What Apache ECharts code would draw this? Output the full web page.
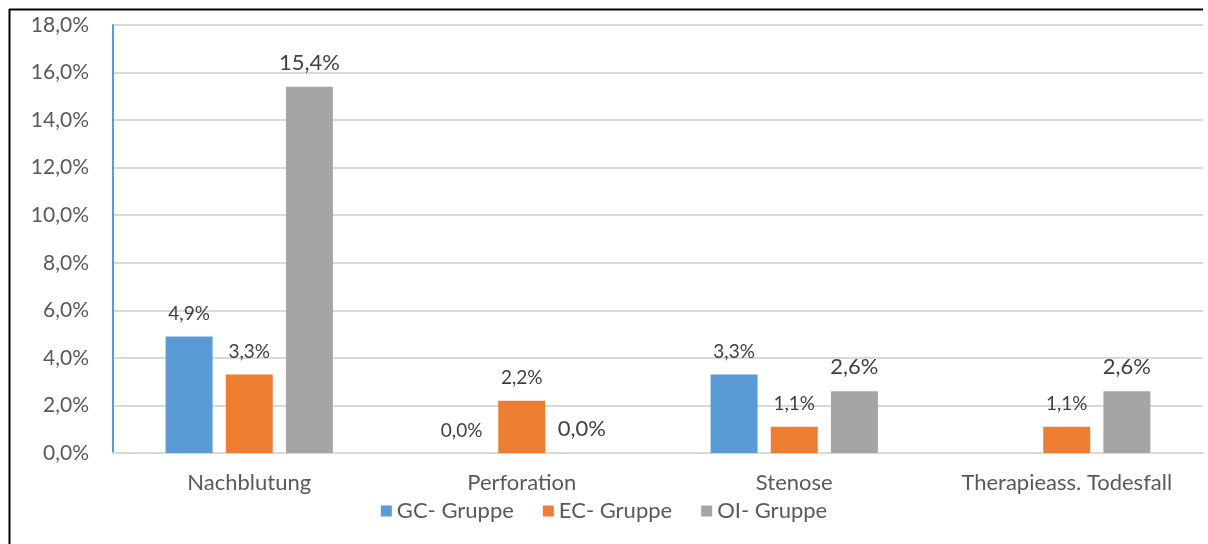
<!DOCTYPE html>
<html>
<head>
<meta charset="utf-8">
<script src="https://cdn.jsdelivr.net/npm/echarts@6/dist/echarts.min.js"></script>
<style>
  html, body { margin: 0; padding: 0; background: #fff; }
  #chart { width: 1208px; height: 544px; }
</style>
</head>
<body>
<div id="chart"></div>
<script>
// categories and values (percent)
const categories = ['Nachblutung', 'Perforation', 'Stenose', 'Therapieass. Todesfall']
const gcValues = [4.9, 0.0, 3.3, null]
const ecValues = [3.3, 2.2, 1.1, 1.1]
const oiValues = [15.4, 0.0, 2.6, 2.6]
const seriesNames = ['GC- Gruppe', 'EC- Gruppe', 'OI- Gruppe']

const fmt = v => v.toFixed(1).replace('.', ',') + '%'

const chart = echarts.init(document.getElementById('chart'))

function barSeries(name, data, color, labelSize, dist) {
  return {
    name: name,
    type: 'bar',
    data: data,
    barWidth: 47,
    barGap: '28%',
    itemStyle: { color: color },
    label: {
      show: true,
      position: 'top',
      distance: dist,
      color: '#404040',
      fontSize: labelSize,
      fontFamily: 'Lato',
      formatter: p => fmt(p.value)
    }
  }
}

chart.setOption({
  animation: false,
  textStyle: { fontFamily: 'Lato' },
  graphic: [
    { type: 'line', shape: { x1: 9, y1: 9.5, x2: 1203, y2: 9.5 }, style: { stroke: '#000', lineWidth: 2 } },
    { type: 'line', shape: { x1: 9.5, y1: 9, x2: 9.5, y2: 544 }, style: { stroke: '#000', lineWidth: 2 } }
  ],
  grid: { left: 113, right: 5, top: 25, bottom: 91 },
  legend: {
    data: seriesNames,
    bottom: 17,
    left: 'center',
    itemWidth: 11,
    itemHeight: 11,
    itemGap: 29,
    icon: 'rect',
    textStyle: { fontSize: 22, color: '#595959', fontFamily: 'Lato' }
  },
  xAxis: {
    type: 'category',
    data: categories,
    axisTick: { show: false },
    axisLine: { lineStyle: { color: '#D9D9D9', width: 2 } },
    axisLabel: { interval: 0, fontSize: 22, color: '#595959', margin: 19, fontFamily: 'Lato' }
  },
  yAxis: {
    type: 'value',
    min: 0,
    max: 18,
    interval: 2,
    axisLine: { show: true, lineStyle: { color: '#5B9BD5', width: 2 } },
    axisTick: { show: false },
    splitLine: { lineStyle: { color: '#D9D9D9', width: 2 } },
    axisLabel: { fontSize: 21, color: '#595959', margin: 24, fontFamily: 'Lato', formatter: v => fmt(v) }
  },
  series: [
    barSeries(seriesNames[0], gcValues, '#5B9BD5', 19, 13),
    barSeries(seriesNames[1], ecValues, '#ED7D31', 19, 13),
    barSeries(seriesNames[2], oiValues, '#A5A5A5', 22, 13)
  ]
})
</script>
</body>
</html>
